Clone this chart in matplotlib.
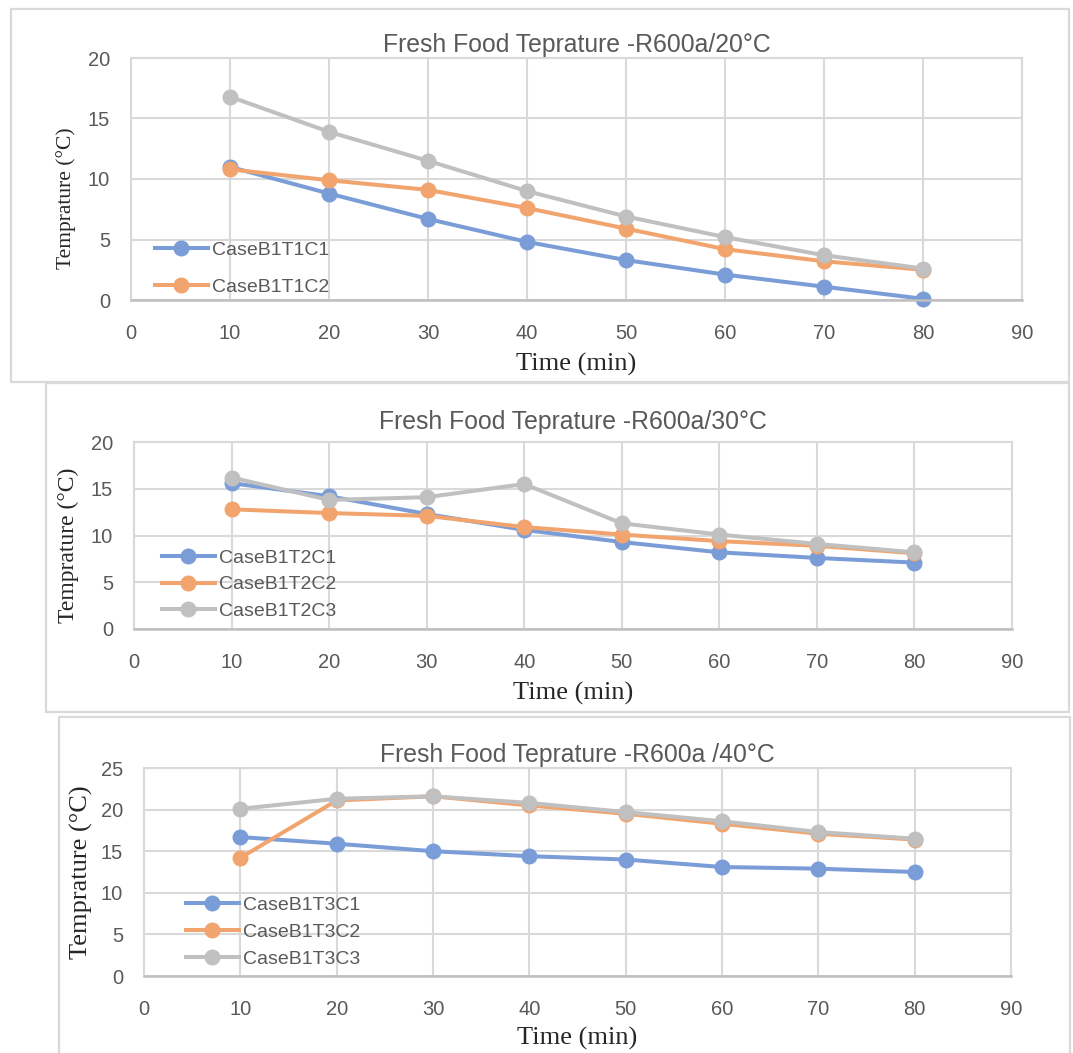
import matplotlib
matplotlib.use('Agg')
from matplotlib import pyplot as plt
from matplotlib.patches import Rectangle

W, H = 1073, 1053

time_min = [10, 20, 30, 40, 50, 60, 70, 80]

t1_c1 = [11.0, 8.8, 6.7, 4.8, 3.3, 2.1, 1.1, 0.1]
t1_c2 = [10.8, 9.9, 9.1, 7.6, 5.9, 4.2, 3.2, 2.5]
t1_c3 = [16.8, 13.9, 11.5, 9.0, 6.9, 5.2, 3.7, 2.6]

t2_c1 = [15.6, 14.2, 12.3, 10.6, 9.3, 8.2, 7.6, 7.1]
t2_c2 = [12.8, 12.4, 12.1, 10.9, 10.1, 9.4, 8.9, 8.1]
t2_c3 = [16.2, 13.8, 14.1, 15.5, 11.3, 10.1, 9.1, 8.2]

t3_c1 = [16.7, 15.9, 15.0, 14.4, 14.0, 13.1, 12.9, 12.5]
t3_c2 = [14.2, 21.1, 21.6, 20.5, 19.5, 18.3, 17.1, 16.4]
t3_c3 = [20.1, 21.3, 21.6, 20.8, 19.7, 18.6, 17.3, 16.5]

titles = ['Fresh Food Teprature -R600a/20°C',
          'Fresh Food Teprature -R600a/30°C',
          'Fresh Food Teprature -R600a /40°C']

BLUE = '#7b9dd7'
ORANGE = '#f2a46e'
GREY = '#c0c0c0'
TEXT = '#595959'
GRID = '#d9d9d9'


def fx(x):
    return x / W


def fy(y):
    return 1 - y / H


def add_axes(fig, left, right, top, bottom):
    return fig.add_axes([fx(left), fy(bottom), fx(right) - fx(left), fy(top) - fy(bottom)])


def add_frame(fig, left, right, top, bottom):
    fig.add_artist(Rectangle((fx(left), fy(bottom)), fx(right) - fx(left), fy(top) - fy(bottom),
                             transform=fig.transFigure, fill=False, edgecolor=GRID, linewidth=1.6))


def draw_panel(fig, box, series, labels, legend_series, title, ymax, title_y, xlabel_y,
               ylabel_xy, ylabel_size, leg_xy, leg_spacing):
    ax = add_axes(fig, *box)
    handles = []
    for values, color in zip(series, [BLUE, ORANGE, GREY]):
        line, = ax.plot(time_min, values, color=color, linewidth=2.9, marker='o',
                        markersize=10.5, clip_on=False)
        handles.append(line)

    ax.set_xlim(0, 90)
    ax.set_ylim(0, ymax)
    ax.set_xticks(range(0, 91, 10))
    ax.set_yticks(range(0, ymax + 1, 5))
    ax.grid(True, color=GRID, linewidth=1.5)
    ax.set_axisbelow(True)
    ax.tick_params(length=0, labelsize=14.5, labelcolor=TEXT)
    ax.tick_params(axis='x', pad=17)
    ax.tick_params(axis='y', pad=15)
    for tick in ax.get_xticklabels() + ax.get_yticklabels():
        tick.set_fontfamily('Liberation Sans')
    for side in ['left', 'right', 'top']:
        ax.spines[side].set_color(GRID)
        ax.spines[side].set_linewidth(1.5)
    ax.spines['bottom'].set_color('#bfbfbf')
    ax.spines['bottom'].set_linewidth(1.8)

    fig.text(fx((box[0] + box[1]) / 2), fy(title_y), title, ha='center', va='center',
             fontsize=17.8, color=TEXT, family='Liberation Sans')
    fig.text(fx((box[0] + box[1]) / 2), fy(xlabel_y), 'Time (min)', ha='center', va='center',
             fontsize=19, color='#262626', family='Liberation Serif')
    fig.text(fx(ylabel_xy[0]), fy(ylabel_xy[1]), 'Temprature (°C)', ha='center',
             va='center', rotation=90, fontsize=ylabel_size, color='#262626',
             family='Liberation Serif')

    ax.legend([handles[i] for i in legend_series], labels, loc='upper left',
              bbox_to_anchor=(fx(leg_xy[0]), fy(leg_xy[1])), bbox_transform=fig.transFigure,
              frameon=False, borderpad=0, borderaxespad=0, handlelength=2.7,
              handletextpad=0.25, labelspacing=leg_spacing,
              prop={'family': 'Liberation Sans', 'size': 14}, labelcolor=TEXT)
    return ax


fig = plt.figure(figsize=(W / 100, H / 100), dpi=100)
fig.patch.set_facecolor('white')

add_frame(fig, 11, 1069, 9, 382)
add_frame(fig, 46, 1069, 383, 712)
add_frame(fig, 59, 1070, 717, 1070)

draw_panel(fig, (131, 1022, 58, 300), [t1_c1, t1_c2, t1_c3],
           ['CaseB1T1C1', 'CaseB1T1C2'], [0, 1], titles[0], 20,
           title_y=45, xlabel_y=364, ylabel_xy=(66, 198), ylabel_size=15.5,
           leg_xy=(155, 241), leg_spacing=1.0)

draw_panel(fig, (134, 1012, 442, 629), [t2_c1, t2_c2, t2_c3],
           ['CaseB1T2C1', 'CaseB1T2C2', 'CaseB1T2C3'], [0, 1, 2], titles[1], 20,
           title_y=422, xlabel_y=693, ylabel_xy=(68, 545), ylabel_size=17,
           leg_xy=(162, 549), leg_spacing=0.47)

draw_panel(fig, (144, 1011, 768, 976), [t3_c1, t3_c2, t3_c3],
           ['CaseB1T3C1', 'CaseB1T3C2', 'CaseB1T3C3'], [0, 1, 2], titles[2], 25,
           title_y=755, xlabel_y=1038, ylabel_xy=(81, 872), ylabel_size=19,
           leg_xy=(186, 896), leg_spacing=0.5)

fig.savefig('out.png', dpi=100)
